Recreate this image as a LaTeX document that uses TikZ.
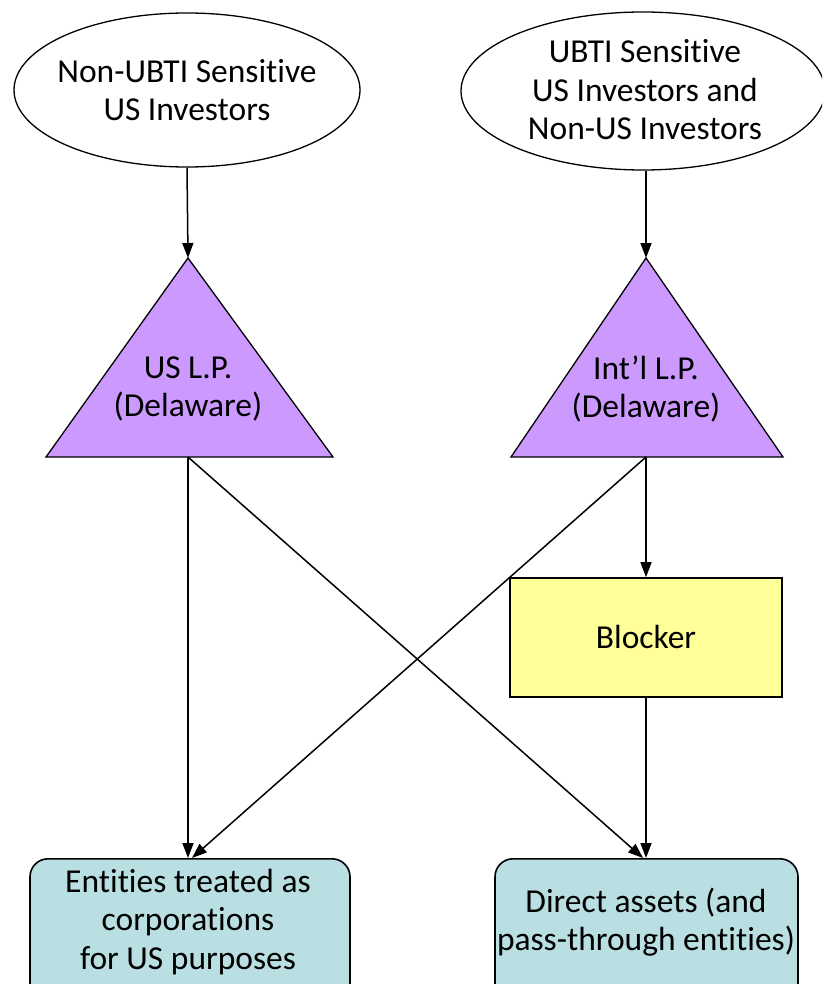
\documentclass[tikz,border=0pt]{standalone}
\usepackage{fontspec}
\setmainfont{Carlito}[Ligatures={NoCommon,NoRare},Contextuals=NoAlternate,RawFeature={-liga;-clig;-calt}]
\usetikzlibrary{arrows.meta,shapes.geometric}
\definecolor{lpfill}{RGB}{204,153,255}
\definecolor{blockfill}{RGB}{255,255,153}
\definecolor{assetfill}{RGB}{185,223,226}
\tikzset{
  conn/.style={line width=1.5pt},
  arr/.style={conn,-{Triangle[length=15pt,width=11pt]}},
  oval/.style={draw,ellipse,line width=1.3pt,fill=white,inner sep=0pt},
  lp/.style={draw,line width=1.3pt,fill=lpfill},
  blockbox/.style={draw,line width=1.6pt,fill=blockfill,inner sep=0pt},
  assetbox/.style={draw,line width=1.6pt,fill=assetfill,rounded corners=18pt,inner sep=0pt},
  txt/.style={align=center,font=\fontsize{33.5}{38.5}\selectfont,inner sep=0pt}
}
\begin{document}
\begin{tikzpicture}[x=1pt,y=-1pt]
\useasboundingbox (0,0) rectangle (822,984);
\clip (0,0) rectangle (822,984);

% investor groups
\node[oval,minimum width=346pt,minimum height=154pt] (inv1) at (187,90) {};
\node[txt] at (187,90) {Non-UBTI Sensitive\\US Investors};
\node[oval,minimum width=364pt,minimum height=158pt] (inv2) at (643,91) {};
\node[txt] at (645,90) {UBTI Sensitive\\US Investors and\\Non-US Investors};

% partnerships
\coordinate (usA) at (188,258);
\coordinate (usB) at (188,457);
\draw[lp] (usA) -- (333,457) -- (46,457) -- cycle;
\node[txt] (uslp) at (188,389) {US L.P.\\(Delaware)};
\coordinate (inA) at (646,258);
\coordinate (inB) at (646,457);
\draw[lp] (inA) -- (783,457) -- (511,457) -- cycle;
\node[txt] (intlp) at (646,389) {Int’l L.P.\\(Delaware)};

% blocker
\node[blockbox,minimum width=272pt,minimum height=119pt] (blk) at (646,637.5) {};
\node[txt] at (646,637) {Blocker};

% investments
\node[assetbox,minimum width=320pt,minimum height=160pt,anchor=north] (corp) at (190,858) {};
\node[txt] at (188,922) {Entities treated as\\corporations\\for US purposes};
\node[assetbox,minimum width=303pt,minimum height=160pt,anchor=north] (dir) at (646.5,858) {};
\node[txt] at (646,922) {Direct assets (and\\pass-through entities)};

% ownership links
\draw[arr] (inv1.south) -- (usA);
\draw[arr] (inv2.south -| inA) -- (inA);
\draw[arr] (usB) -- (usB |- corp.north);
\draw[arr] (usB) -- (643,858);
\draw[arr] (inB) -- (192,858);
\draw[arr] (inB) -- (blk.north);
\draw[arr] (blk.south) -- (blk.south |- dir.north);
\end{tikzpicture}
\end{document}
